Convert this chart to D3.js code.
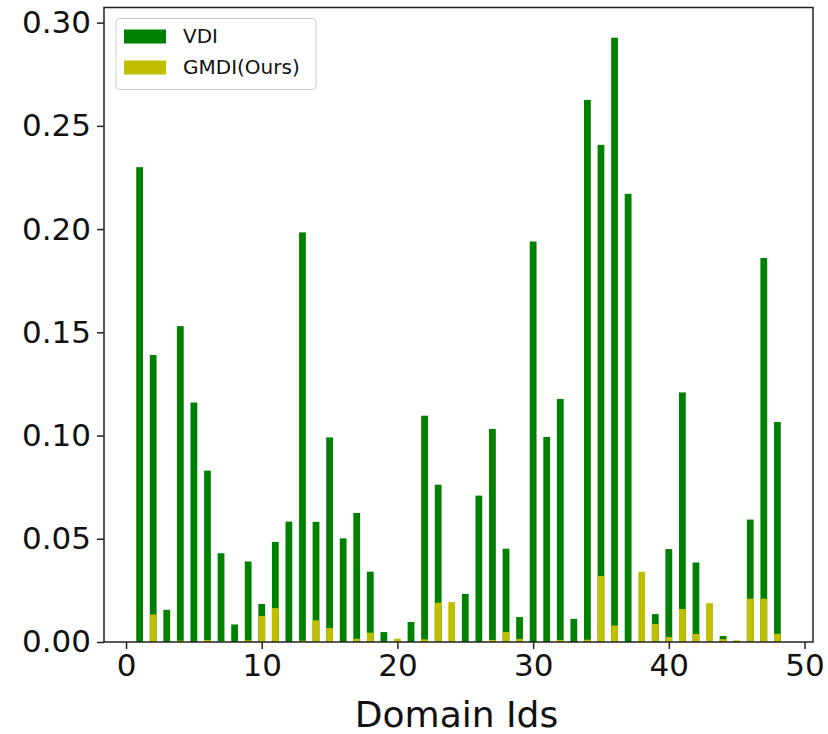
<!DOCTYPE html>
<html>
<head>
	<meta charset="utf-8">
	<script src="https://d3js.org/d3.v7.min.js"></script>
	<style>
		body{ margin: 0; background: white; }
		text{ font-family: "DejaVu Sans", sans-serif; fill: #111; }
		.axis path, .axis line{ stroke: #222; stroke-width: 1.5; }
	</style>
</head>
<body>
	<script>
		var width = 828, height = 734;
		var margin = {top: 7.5, right: 15, bottom: 92, left: 104};

		// domain ids 1..48
		var ids = d3.range(1, 49);
		var vdi = [0.230, 0.139, 0.0156, 0.153, 0.116, 0.083, 0.043, 0.0085, 0.039, 0.0184,
				   0.0485, 0.0583, 0.1984, 0.0582, 0.0991, 0.0502, 0.0625, 0.0341, 0.0048, 0,
				   0.0097, 0.1096, 0.0762, 0, 0.0233, 0.0709, 0.1032, 0.0452, 0.0121, 0.194,
				   0.0993, 0.1177, 0.0112, 0.2626, 0.2408, 0.2927, 0.2171, 0, 0.0135, 0.0450,
				   0.1209, 0.0385, 0, 0.0029, 0, 0.0593, 0.186, 0.1066];
		var gmdi = [0, 0.0133, 0, 0.0006, 0, 0.001, 0.0005, 0, 0.0008, 0.0126,
					0.0164, 0, 0.0006, 0.0105, 0.0068, 0, 0.0016, 0.0045, 0, 0.0016,
					0, 0.0013, 0.019, 0.0193, 0, 0, 0.001, 0.0048, 0.0015, 0,
					0, 0.001, 0, 0.0011, 0.032, 0.008, 0, 0.034, 0.0087, 0.0024,
					0.016, 0.0039, 0.0188, 0.0014, 0.0008, 0.021, 0.021, 0.004];
		var xTicks = [0, 10, 20, 30, 40, 50];
		var yTicks = [0, 0.05, 0.10, 0.15, 0.20, 0.25, 0.30];
		var seriesNames = ["VDI", "GMDI(Ours)"];
		var seriesColors = ["#008000", "#bfbf00"];

		var barW = 0.5;
		var xPad = (48 + barW / 2 - (1 - barW / 2)) * 0.05;
		var yMax = d3.max(vdi) * 1.05;

		var svg = d3.select("body").append("svg")
					.attr("width", width).attr("height", height);
		var g = svg.append("g").attr("transform", "translate(" + margin.left + "," + margin.top + ")");
		var w = width - margin.left - margin.right, h = height - margin.top - margin.bottom;

		var x = d3.scaleLinear().domain([1 - barW / 2 - xPad, 48 + barW / 2 + xPad]).range([0, w]);
		var y = d3.scaleLinear().domain([0, yMax]).range([h, 0]);

		var series = [vdi, gmdi];
		series.forEach(function(vals, k){
			g.append("g").selectAll("rect")
				.data(ids)
				.enter().append("rect")
				.attr("x", function(d){ return x(d - barW / 2); })
				.attr("width", function(d){ return x(d + barW / 2) - x(d - barW / 2); })
				.attr("y", function(d, i){ return y(vals[i]); })
				.attr("height", function(d, i){ return h - y(vals[i]); })
				.attr("fill", seriesColors[k]);
		});

		var xAxis = g.append("g").attr("class", "axis")
					.attr("transform", "translate(0," + h + ")")
					.call(d3.axisBottom(x).tickValues(xTicks).tickSize(7).tickPadding(5));
		xAxis.selectAll("text").attr("font-size", 31);
		xAxis.select(".domain").remove();

		var yAxis = g.append("g").attr("class", "axis")
					.call(d3.axisLeft(y).tickValues(yTicks).tickFormat(d3.format(".2f")).tickSize(7).tickPadding(6));
		yAxis.selectAll("text").attr("font-size", 31);
		yAxis.select(".domain").remove();

		// frame
		g.append("rect").attr("width", w).attr("height", h)
			.attr("fill", "none").attr("stroke", "#222").attr("stroke-width", 1.5);

		g.append("text")
			.attr("x", w / 2 - 2).attr("y", h + 85)
			.attr("text-anchor", "middle").attr("font-size", 36)
			.text("Domain Ids");

		// legend
		var legend = g.append("g").attr("transform", "translate(12,11)");
		legend.append("rect").attr("width", 200).attr("height", 71).attr("rx", 4)
			.attr("fill", "white").attr("fill-opacity", 0.8)
			.attr("stroke", "#ccc").attr("stroke-width", 1);
		seriesNames.forEach(function(name, k){
			legend.append("rect").attr("x", 8).attr("y", 11 + k * 31)
				.attr("width", 42).attr("height", 14).attr("fill", seriesColors[k]);
			legend.append("text").attr("x", 67).attr("y", 19 + k * 31)
				.attr("dominant-baseline", "middle").attr("font-size", 20)
				.text(name);
		});
	</script>
</body>
</html>
